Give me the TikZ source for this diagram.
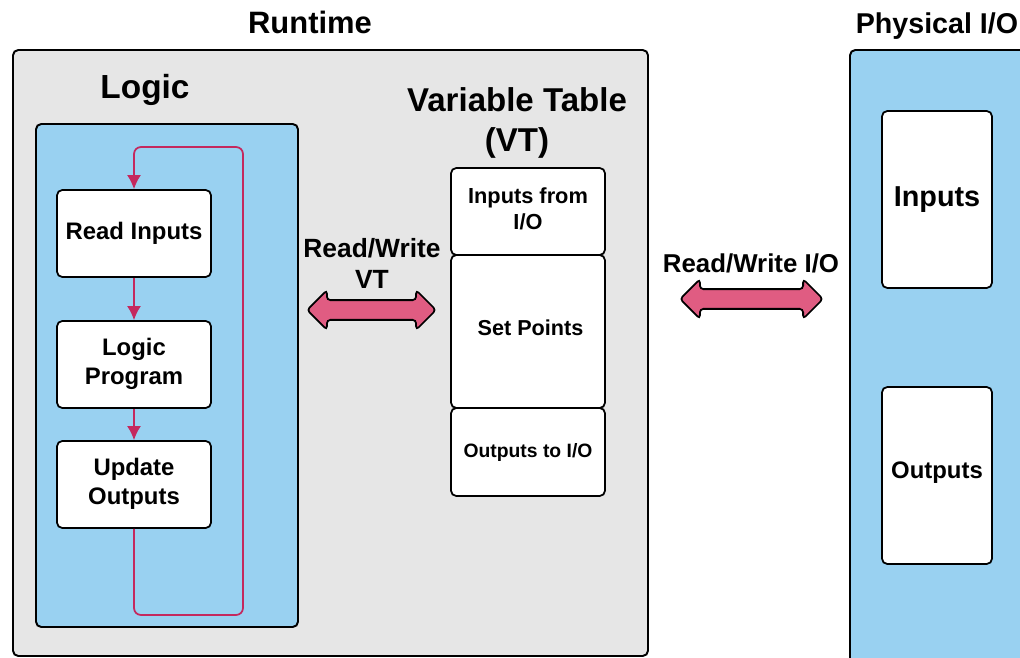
\documentclass[tikz,border=0pt]{standalone}
\usepackage{fontspec}
\setmainfont{Liberation Sans}
\usetikzlibrary{shapes.arrows,arrows.meta}
\definecolor{rtgray}{HTML}{E6E6E6}
\definecolor{lgblue}{HTML}{99D1F1}
\definecolor{loopred}{HTML}{C4285E}
\definecolor{rwpink}{HTML}{E05C82}
\newcommand{\fnt}[2]{\fontsize{#1}{#2}\selectfont\bfseries}
\newcommand{\lift}[2]{\raisebox{#1}{\begin{tabular}{@{}c@{}}#2\end{tabular}}}
\tikzset{
  panel/.style={draw=black, line width=1.1pt, rounded corners=3pt},
  blockbox/.style={draw=black, fill=white, line width=1pt, rounded corners=3pt, align=center, inner sep=0pt},
  rwarrow/.style={double arrow, draw=black, fill=rwpink, line width=1pt, inner xsep=0pt, inner ysep=0.18cm,
    double arrow head extend=0.2cm, double arrow tip angle=90, rounded corners=2pt},
  flow/.style={draw=loopred, line width=1pt, -{Latex[length=0.28cm,width=0.28cm]}},
  title/.style={align=center, inner sep=0pt}
}

\begin{document}
\begin{tikzpicture}[x=0.02cm, y=-0.02cm]
  \useasboundingbox (0,0) rectangle (1020,658);
  \clip (0,0) rectangle (1020,658);

  % panels
  \draw[panel, fill=rtgray] (13,50) rectangle (648,656);
  \draw[panel, fill=lgblue] (36,124) rectangle (298,627);
  \draw[panel, fill=lgblue] (850,50) rectangle (1040,690);

  % titles
  \node[title, font=\fnt{17.6}{21}] (rt) at (310,22) {Runtime};
  \node[title, font=\fnt{19}{23}] (lg) at (145,90) {Logic};
  \node[title, font=\fnt{18.8}{22.7}] (vt) at (517,123) {Variable Table\\(VT)};
  \node[title, font=\fnt{16.3}{20}] (pio) at (937,26) {Physical I/O};

  % logic loop
  \node[blockbox, minimum width=3.08cm, minimum height=1.74cm, font=\fnt{13.6}{16.5}] (ri) at (134,233.5) {Read Inputs};
  \node[blockbox, minimum width=3.08cm, minimum height=1.74cm, font=\fnt{13.6}{16.5}] (lp) at (134,364.5) {\lift{0.04cm}{Logic\\Program}};
  \node[blockbox, minimum width=3.08cm, minimum height=1.74cm, font=\fnt{13.6}{16.5}] (uo) at (134,484.5) {\lift{0.04cm}{Update\\Outputs}};

  \coordinate (lpbr) at (243,615);
  \coordinate (lptr) at (243,147);
  \draw[flow] (ri) -- (lp);
  \draw[flow] (lp) -- (uo);
  \draw[flow, rounded corners=4pt] (uo.south) |- (lpbr) -- (lptr) -| (ri.north);

  % variable table
  \node[blockbox, minimum width=3.08cm, minimum height=1.74cm, font=\fnt{12.4}{14.7}] (vtin) at (528,211.5) {\lift{0.07cm}{Inputs from\\I/O}};
  \node[blockbox, minimum width=3.08cm, minimum height=3.06cm, font=\fnt{12.3}{14.5}] (vtsp) at (528,331.5) {\hspace{0.1cm}\raisebox{-0.09cm}[0pt][0pt]{Set Points}};
  \node[blockbox, minimum width=3.08cm, minimum height=1.76cm, font=\fnt{11}{13}] (vtout) at (528,452) {Outputs to I/O};

  % physical I/O
  \node[blockbox, minimum width=2.2cm, minimum height=3.54cm, font=\fnt{16.4}{19}] (pin) at (937,199.5) {Inputs};
  \node[blockbox, minimum width=2.2cm, minimum height=3.54cm, font=\fnt{13.6}{16}] (pout) at (937,475.5) {\raisebox{-0.06cm}[0pt][0pt]{Outputs}};

  % read/write arrows
  \node[title, font=\fnt{15}{17.6}] (rwvt) at (372,263) {Read/Write\\VT};
  \node[rwarrow, minimum height=2.58cm] (avt) at (371.5,310) {};
  \node[title, font=\fnt{14.7}{17}] (rwio) at (751,263) {Read/Write I/O};
  \node[rwarrow, minimum height=2.86cm] (aio) at (751.5,299) {};
\end{tikzpicture}
\end{document}
